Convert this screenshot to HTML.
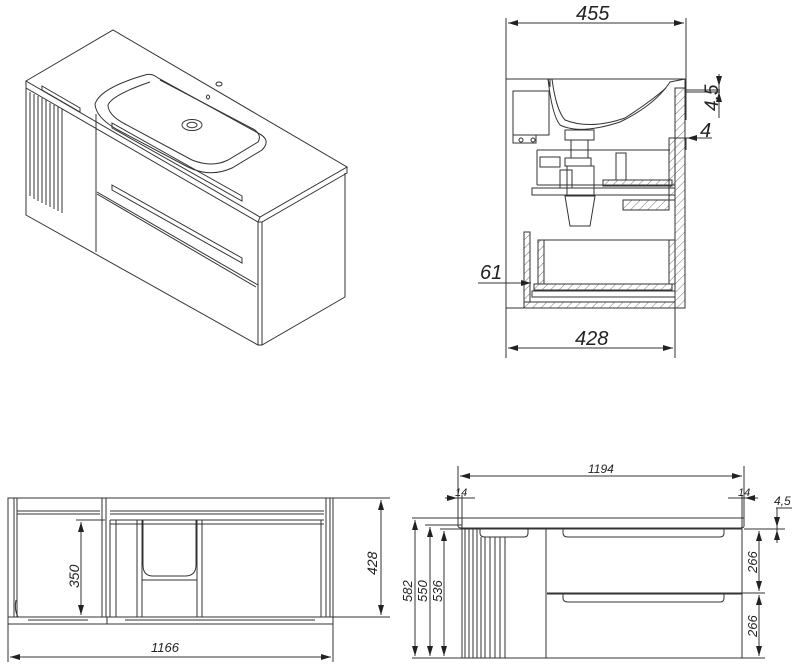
<!DOCTYPE html>
<html><head><meta charset="utf-8"><style>
html,body{margin:0;padding:0;background:#fff;width:800px;height:667px;overflow:hidden}
svg{display:block}
text{font-family:"Liberation Sans",sans-serif;font-style:italic;fill:#222}
</style></head><body>
<svg width="800" height="667" viewBox="0 0 800 667" xmlns="http://www.w3.org/2000/svg">
<defs>
<marker id="a" viewBox="0 0 10 6" refX="10" refY="3" markerWidth="10" markerHeight="6" orient="auto-start-reverse" markerUnits="userSpaceOnUse"><path d="M0,0L10,3L0,6z" fill="#222"/></marker>
<pattern id="h" width="6" height="6" patternUnits="userSpaceOnUse" patternTransform="rotate(45)"><line x1="0" y1="0" x2="0" y2="6" stroke="#555" stroke-width="0.8"/></pattern>
</defs>
<g fill="none" stroke="#333" stroke-width="1">
<!-- ISO VIEW -->
<path d="M26,81 L113,30 L347,167 L260,217 Z" fill="#fff"/>
<path d="M26,81 L26,88 L258,222 L260,217 M258,222 L262,222 L347,173 L347,167"/>
<path d="M26,88 L26,215 L258,345 L258,222"/>
<path d="M262,222 L262,345 L345,297 L345,173"/>
<path d="M258,345 L262,345"/>
<path d="M96,114 L96,252"/>
<path d="M97,192 L258,285 M97,194 L256,287"/>
<!-- fluting -->
<path d="M30,92 V196 M34,94 V199 M38,96 V201 M42,98 V203 M46,100 V205 M50,103 V207 M54,105 V209 M58,107 V211 M62,109 V213"/>
<!-- handles -->
<path d="M42,86 L80,108 L80,112 L42,90 Z"/>
<path d="M112,123 L242,196 L242,201 L112,128 Z"/>
<path d="M112,185 L242,258 L242,263 L112,190 Z"/>
<!-- basin -->
<path d="M145,75 Q100,88 95,104 Q96,118 118,130 L188,167 Q210,178 232,168 L262,150 Q272,140 258,133 L158,78 Q152,73 145,75 Z"/>
<path d="M150,82 Q112,95 108,105 Q108,115 125,124 L192,160 Q212,168 228,160 L258,142 Q262,136 255,130 L160,80"/>
<ellipse cx="192" cy="125" rx="10" ry="5.5"/>
<ellipse cx="192" cy="125" rx="5" ry="2.8"/>
<ellipse cx="219" cy="84" rx="3" ry="2"/>
<ellipse cx="208" cy="97" rx="1.5" ry="2"/>

<!-- SIDE VIEW -->
<path d="M506,18 V358 M686,18 V120 M675,308 V358"/>
<line x1="508" y1="23" x2="684" y2="23" marker-start="url(#a)" marker-end="url(#a)"/>
<line x1="508" y1="348" x2="673" y2="348" marker-start="url(#a)" marker-end="url(#a)"/>
<rect x="506" y="79" width="179" height="229"/>
<path d="M506,79 H548 L550,87 V79 Z" fill="url(#h)"/>
<path d="M675,88 H685 V308 H675 Z" fill="url(#h)"/>
<path d="M524,302 H675 V308 H524 Z" fill="url(#h)"/>
<path d="M623,200 H669 V210 H623 Z" fill="url(#h)"/>
<path d="M548,79 Q552,115 560,125 Q580,135 620,122 Q655,105 670,82 L685,79"/>
<path d="M552,79 Q556,110 565,120 Q590,130 625,118 Q650,102 666,88"/>
<rect x="513" y="91" width="36" height="44"/>
<path d="M513,135 V143 H536 V135"/>
<circle cx="521" cy="140" r="2"/><circle cx="533" cy="140" r="2"/>
<rect x="565" y="130" width="29" height="10"/>
<rect x="571" y="140" width="17" height="18"/>
<rect x="565" y="158" width="26" height="8"/>
<rect x="560" y="170" width="12" height="18"/>
<rect x="567" y="166" width="27" height="30"/>
<path d="M565,196 H595 L590,226 H570 Z"/>
<rect x="540" y="157" width="20" height="10"/>
<path d="M537,150 V185 M537,150 H670 M537,185 H675 M532,188 H675 V195 H532 Z"/>
<rect x="616" y="153" width="10" height="27"/>
<path d="M603,180 H672 V186 H603 Z" fill="url(#h)"/>
<path d="M669,138 H675 V200 H669 Z" fill="url(#h)"/>
<rect x="524" y="232" width="6" height="70" fill="url(#h)"/>
<rect x="538" y="240" width="6" height="44" fill="url(#h)"/>
<rect x="669" y="240" width="6" height="44" fill="url(#h)"/>
<path d="M538,240 H675 M534,284 H672 V290 H534 Z" fill="url(#h)"/>
<path d="M532,291 H675 V297 H532 Z"/>
<path d="M685,90 H720 M685,92 H720 M719,82 V118 M675,138 H712 M686,138 V150"/>
<line x1="719" y1="74" x2="719" y2="86" marker-end="url(#a)"/>
<line x1="719" y1="101" x2="719" y2="92" marker-end="url(#a)"/>
<line x1="712" y1="138" x2="687" y2="138" marker-end="url(#a)"/>
<line x1="478" y1="283" x2="531" y2="283" marker-end="url(#a)"/>

<!-- FRONT BACK VIEW (bottom left) -->
<rect x="8" y="498" width="325" height="119"/>
<path d="M8,498 H30 M101,498 H122 M312,498 H333"/>
<path d="M14,498 V617 M17,498 V617 M102,498 V617 M106,498 V617 M326,498 V617 M330,498 V617"/>
<path d="M17,511 H100 M17,514 H100 M110,511 H324 M110,514 H324"/>
<path d="M110,520 H324 M110,524 H324 M110,520 V617 M116,520 V617 M137,520 V617 M142,520 V617 M197,520 V617 M202,520 V617 M321,520 V617"/>
<path d="M143,520 V565 Q143,576 153,576 H185 Q196,576 196,565 V520 M142,580 H197"/>
<path d="M8,617 V624 H333 V617 M107,617 V624"/>
<path d="M28,620 H88 M125,620 H315"/>
<path d="M16,600 Q14,610 18,617"/>
<path d="M8,624 V662 M333,624 V662 M333,498 H390 M333,617 H390 M76,520 H105 M76,617 H90"/>
<line x1="10" y1="657" x2="331" y2="657" marker-start="url(#a)" marker-end="url(#a)"/>
<line x1="381" y1="500" x2="381" y2="615" marker-start="url(#a)" marker-end="url(#a)"/>
<line x1="81" y1="522" x2="81" y2="615" marker-start="url(#a)" marker-end="url(#a)"/>

<!-- FRONT VIEW (bottom right) -->
<path d="M458,518 H744 V526 Q744,528 740,528 H462 Q458,528 458,526 Z"/>
<rect x="462" y="529" width="280" height="129"/>
<path d="M546,529 V658 M547,593 H742 M547,594 H742"/>
<path d="M465,529 V658 M469,529 V658 M473,529 V658 M477,529 V658 M481,537 V658 M485,537 V658 M490,537 V658 M495,537 V658 M500,537 V658 M505,537 V658"/>
<path d="M480,529 V533 Q480,537 485,537 H524 Q528,537 528,533 V529"/>
<path d="M563,529 V533 Q563,537 568,537 H720 Q724,537 724,533 V529"/>
<path d="M563,594 V598 Q563,602 568,602 H720 Q724,602 724,598 V594"/>
<path d="M458,466 V518 M744,466 V518 M462,495 V529 M742,495 V529"/>
<line x1="460" y1="476" x2="742" y2="476" marker-start="url(#a)" marker-end="url(#a)"/>
<path d="M445,498 H475 M728,498 H758"/>
<line x1="445" y1="498" x2="457" y2="498" marker-end="url(#a)"/>
<line x1="758" y1="498" x2="745" y2="498" marker-end="url(#a)"/>
<path d="M412,518 H458 M425,525 H462 M440,529 H462 M744,529 H785 M742,593 H765 M742,658 H765 M412,658 H462"/>
<line x1="415" y1="520" x2="415" y2="656" marker-start="url(#a)" marker-end="url(#a)"/>
<line x1="430" y1="527" x2="430" y2="656" marker-start="url(#a)" marker-end="url(#a)"/>
<line x1="444" y1="531" x2="444" y2="656" marker-start="url(#a)" marker-end="url(#a)"/>
<line x1="759" y1="531" x2="759" y2="591" marker-start="url(#a)" marker-end="url(#a)"/>
<line x1="759" y1="595" x2="759" y2="656" marker-start="url(#a)" marker-end="url(#a)"/>
<path d="M776,508 H792 M777,508 V543"/>
<line x1="777" y1="510" x2="777" y2="527" marker-end="url(#a)"/>
<line x1="777" y1="541" x2="777" y2="530" marker-end="url(#a)"/>
</g>
<g>
<text x="576" y="20" font-size="20">455</text>
<text x="575" y="345" font-size="20">428</text>
<text x="480" y="279" font-size="20">61</text>
<text x="700" y="137" font-size="20">4</text>
<text transform="translate(718,111) rotate(-90)" font-size="19">4,5</text>
<text x="151" y="652" font-size="13">1166</text>
<text transform="translate(377,575) rotate(-90)" font-size="14">428</text>
<text transform="translate(79,588) rotate(-90)" font-size="14">350</text>
<text x="588" y="473" font-size="12">1194</text>
<text x="455" y="496" font-size="11">14</text>
<text x="738" y="496" font-size="11">14</text>
<text x="774" y="505" font-size="12">4,5</text>
<text transform="translate(757,573) rotate(-90)" font-size="13">266</text>
<text transform="translate(757,637) rotate(-90)" font-size="13">266</text>
<text transform="translate(412,602) rotate(-90)" font-size="13">582</text>
<text transform="translate(427,602) rotate(-90)" font-size="13">550</text>
<text transform="translate(442,602) rotate(-90)" font-size="13">536</text>
</g>
</svg>
</body></html>
